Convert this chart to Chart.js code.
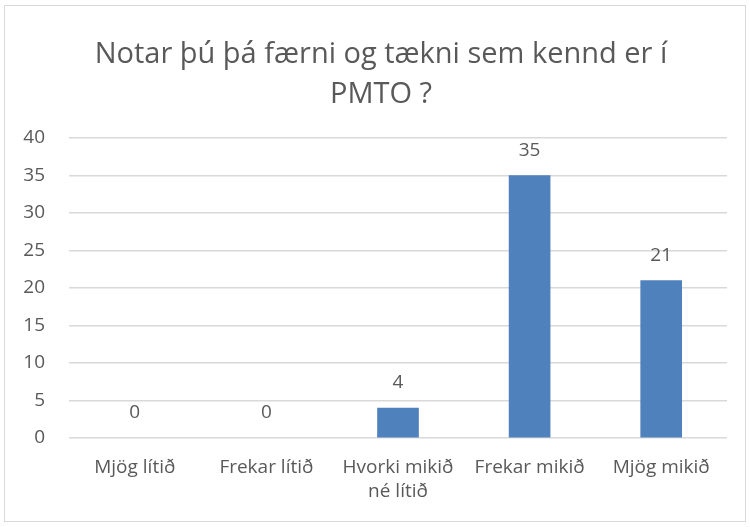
<!DOCTYPE html>
<html>
<head>
<meta charset="utf-8">
<script src="https://cdn.jsdelivr.net/npm/chart.js@4"></script>
<style>
  body{margin:0;background:#fff}
  #box{position:absolute;left:4px;top:5px;width:740px;height:515px;border:1px solid #d9d9d9}
</style>
</head>
<body>
<div id="box"><canvas id="myChart" width="740" height="515"></canvas></div>
<script>
const labels = ["Mjög lítið", "Frekar lítið", ["Hvorki mikið", "né lítið"], "Frekar mikið", "Mjög mikið"];
const counts = [0, 0, 4, 35, 21];
const titleLines = ["Notar þú þá færni og tækni sem kennd er í", "PMTO ?"];

const textColor = "#595959";
const barColor = "#4f81bd";
const fontFam = "'Open Sans', sans-serif";

// draws the value over each bar
const barValues = {
  id: "barValues",
  afterDatasetsDraw(chart) {
    let ctx = chart.ctx
    let meta = chart.getDatasetMeta(0)
    ctx.save()
    ctx.fillStyle = textColor
    ctx.font = "19px " + fontFam
    ctx.textAlign = "center"
    ctx.textBaseline = "middle"
    meta.data.forEach((bar, i) => {
      ctx.fillText(counts[i], bar.x, bar.y - 25)
    })
    ctx.restore()
  }
}

// title drawn a bit right of canvas center like the original
const chartTitle = {
  id: "chartTitle",
  afterDraw(chart) {
    let ctx = chart.ctx
    ctx.save()
    ctx.fillStyle = textColor
    ctx.font = "29px " + fontFam
    ctx.textAlign = "center"
    ctx.textBaseline = "middle"
    titleLines.forEach((line, i) => {
      ctx.fillText(line, chart.width / 2 + 6, 49 + i * 40)
    })
    ctx.restore()
  }
}

var ctx = document.getElementById("myChart").getContext("2d");
var myChart = new Chart(ctx, {
  type: 'bar',
  data: {
    labels: labels,
    datasets: [{
      data: counts,
      backgroundColor: c => c.raw === 0 ? 'rgba(0,0,0,0)' : barColor,
      barThickness: 41
    }]
  },
  options: {
    responsive: false,
    animation: false,
    layout: { padding: { left: 0, right: 18, top: 132, bottom: 0 } },
    plugins: {
      legend: { display: false },
      tooltip: { enabled: false },
      title: { display: false }
    },
    scales: {
      x: {
        grid: { display: false, drawTicks: false },
        border: { display: false },
        ticks: { color: textColor, font: { family: fontFam, size: 19, lineHeight: 1.3 }, padding: 17, maxRotation: 0, autoSkip: false },
        afterFit(scale) { scale.height = 83 }
      },
      y: {
        min: 0, max: 40,
        grid: { color: "#d9d9d9", lineWidth: 1.5, drawTicks: false },
        border: { display: false },
        ticks: { stepSize: 5, color: textColor, font: { family: fontFam, size: 19 }, padding: 24 },
        afterFit(scale) { scale.width = 64 }
      }
    }
  },
  plugins: [barValues, chartTitle]
});
</script>
</body>
</html>
